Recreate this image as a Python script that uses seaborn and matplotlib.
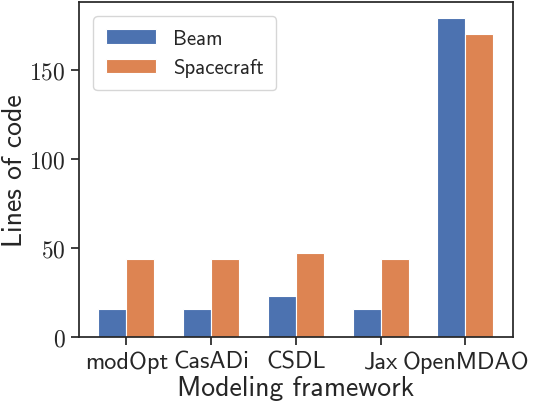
import matplotlib
matplotlib.use("Agg")
import matplotlib.pyplot as plt
import seaborn as sns
import pandas as pd

# lines of code per modeling framework
frameworks = ["modOpt", "CasADi", "CSDL", "Jax", "OpenMDAO"]
beam = [16, 16, 23, 16, 179]
spacecraft = [44, 44, 47, 44, 170]

df = pd.DataFrame({
    "framework": frameworks * 2,
    "loc": beam + spacecraft,
    "problem": ["Beam"] * len(frameworks) + ["Spacecraft"] * len(frameworks),
})

sns.set_theme(style="ticks")
plt.rcParams["font.family"] = ["cmss10", "DejaVu Sans"]
plt.rcParams["mathtext.fontset"] = "cm"
plt.rcParams["axes.formatter.use_mathtext"] = True

fig, ax = plt.subplots(figsize=(5.48, 4.02), dpi=100)
sns.barplot(data=df, x="framework", y="loc", hue="problem",
            palette=["#4c72b0", "#dd8452"], saturation=1, width=0.66, gap=0,
            edgecolor="white", linewidth=0.8, ax=ax)

ax.set_xlim(-0.56, 4.56)
ax.set_ylim(0, 188)
ax.set_yticks([0, 50, 100, 150])
ax.set_yticklabels([f"${v}$" for v in [0, 50, 100, 150]])
ax.tick_params(axis="y", labelsize=17)
ax.tick_params(axis="x", labelsize=17.5, pad=4)
ax.set_xlabel("Modeling framework", fontsize=20, labelpad=1)
ax.set_ylabel("Lines of code", fontsize=20, labelpad=2)
ax.legend(title=None, loc="upper left", fontsize=15, handlelength=2.4,
          borderaxespad=0.7, borderpad=0.6)

fig.subplots_adjust(left=0.144, right=0.936, top=0.993, bottom=0.159)
plt.savefig("out.png", dpi=100)
